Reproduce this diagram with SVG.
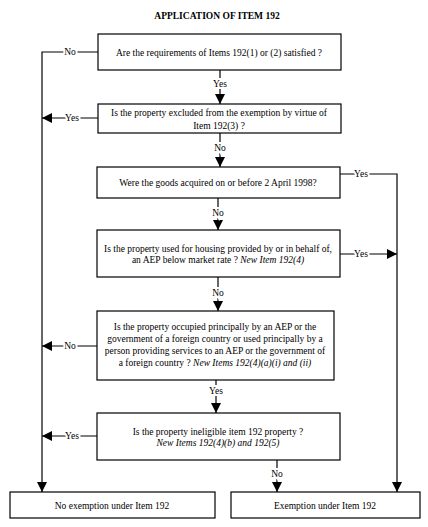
<svg xmlns="http://www.w3.org/2000/svg" width="428" height="527" viewBox="0 0 428 527" font-family="'Liberation Serif', 'Times New Roman', serif">
<defs>
<marker id="ah" markerWidth="10" markerHeight="10" refX="10" refY="5" orient="auto" markerUnits="userSpaceOnUse">
<path d="M0,0 L10,5 L0,10 Z" fill="#000"/>
</marker>
<style>
.box{fill:#fff;stroke:#000;stroke-width:1.2}
.t{font-family:'Liberation Serif','Times New Roman',serif;font-size:9.5px;fill:#000;text-anchor:middle}
.i{font-style:italic}
.ln{fill:none;stroke:#000;stroke-width:1.2}
.arr{marker-end:url(#ah)}
.lb{font-family:'Liberation Serif','Times New Roman',serif;font-size:9.5px;fill:#000;text-anchor:middle;stroke:#fff;stroke-width:4;paint-order:stroke}
</style>
</defs>
<rect width="428" height="527" fill="#fff"/>
<text x="217" y="19" class="t" style="font-weight:bold;font-size:9.5px">APPLICATION OF ITEM 192</text>

<g id="connectors">
<polyline class="ln arr" points="98,52 42,52 42,492"/>
<line class="ln arr" x1="220" y1="70" x2="220" y2="104"/>
<line class="ln arr" x1="98" y1="118" x2="42" y2="118"/>
<line class="ln arr" x1="220" y1="133" x2="220" y2="167"/>
<polyline class="ln arr" points="340,174 397,174 397,492"/>
<line class="ln arr" x1="218" y1="198" x2="218" y2="230"/>
<line class="ln arr" x1="340" y1="254" x2="397" y2="254"/>
<line class="ln arr" x1="218" y1="277" x2="218" y2="311"/>
<line class="ln arr" x1="97" y1="346" x2="42" y2="346"/>
<line class="ln arr" x1="216" y1="380" x2="216" y2="413"/>
<line class="ln arr" x1="97" y1="436" x2="42" y2="436"/>
<line class="ln arr" x1="277" y1="460" x2="277" y2="492"/>
<text class="lb" x="70" y="55">No</text>
<text class="lb" x="220" y="87">Yes</text>
<text class="lb" x="72" y="121">Yes</text>
<text class="lb" x="220" y="151">No</text>
<text class="lb" x="361" y="177">Yes</text>
<text class="lb" x="218" y="216">No</text>
<text class="lb" x="361" y="257">Yes</text>
<text class="lb" x="218" y="296">No</text>
<text class="lb" x="70" y="349">No</text>
<text class="lb" x="216" y="394">Yes</text>
<text class="lb" x="72" y="439">Yes</text>
<text class="lb" x="277" y="477">No</text>
</g>

<g id="q1">
<rect class="box" x="98" y="34" width="243" height="36"/>
<text class="t" x="219" y="56">Are the requirements of Items 192(1) or (2) satisfied ?</text>
</g>
<g id="q2">
<rect class="box" x="98" y="104" width="243" height="29"/>
<text class="t" x="219" y="116">Is the property excluded from the exemption by virtue of</text>
<text class="t" x="219" y="129">Item 192(3) ?</text>
</g>
<g id="q3">
<rect class="box" x="97" y="167" width="243" height="31"/>
<text class="t" x="218" y="186">Were the goods acquired on or before 2 April 1998?</text>
</g>
<g id="q4">
<rect class="box" x="97" y="230" width="243" height="47"/>
<text class="t" x="218" y="252">Is the property used for housing provided by or in behalf of,</text>
<text class="t" x="218" y="263">an AEP below market rate ? <tspan class="i">New Item 192(4)</tspan></text>
</g>
<g id="q5">
<rect class="box" x="97" y="311" width="237" height="69"/>
<text class="t" x="215" y="330">Is the property occupied principally by an AEP or the</text>
<text class="t" x="215" y="342">government of a foreign country or used principally by a</text>
<text class="t" x="215" y="354">person providing services to an AEP or the government of</text>
<text class="t" x="215" y="366">a foreign country ? <tspan class="i">New Items 192(4)(a)(i) and (ii)</tspan></text>
</g>
<g id="q6">
<rect class="box" x="97" y="413" width="243" height="47"/>
<text class="t" x="218" y="435">Is the property ineligible item 192 property ?</text>
<text class="t i" x="218" y="446">New Items 192(4)(b) and 192(5)</text>
</g>
<g id="r_no">
<rect class="box" x="10" y="492" width="205" height="26"/>
<text class="t" x="112" y="509">No exemption under Item 192</text>
</g>
<g id="r_yes">
<rect class="box" x="231" y="492" width="189" height="26"/>
<text class="t" x="325" y="509">Exemption under Item 192</text>
</g>
</svg>
